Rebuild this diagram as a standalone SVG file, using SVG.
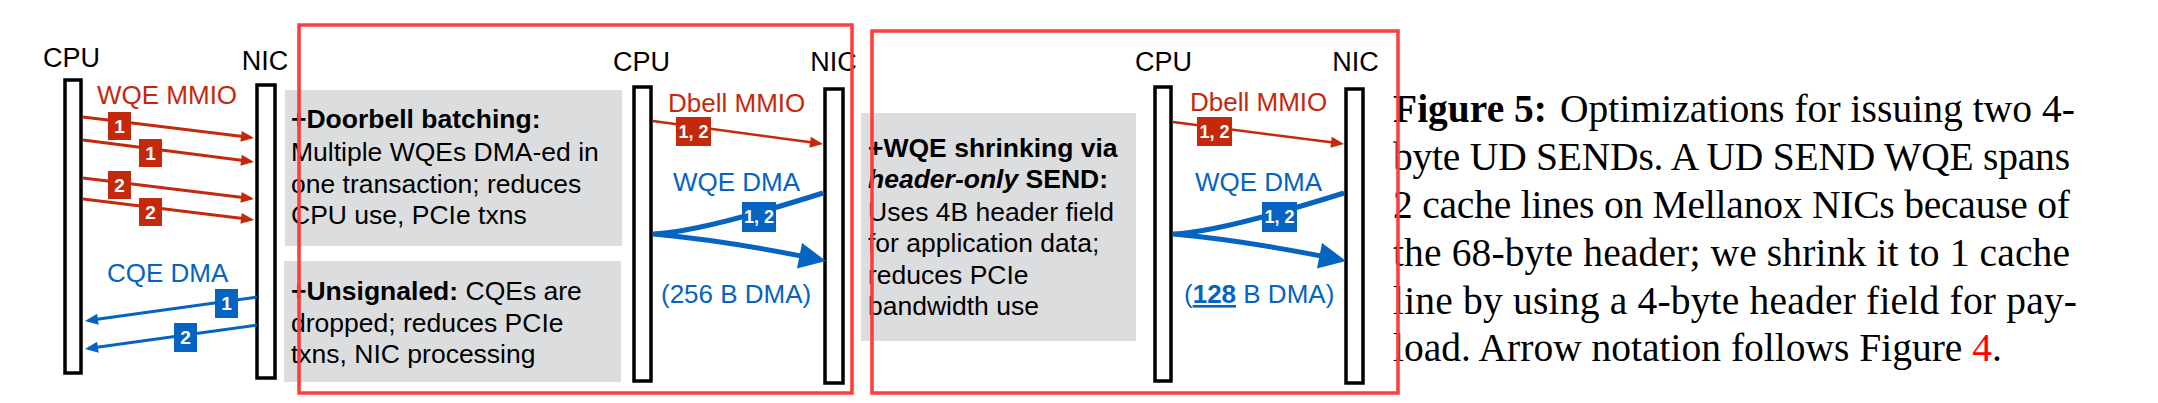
<svg xmlns="http://www.w3.org/2000/svg" width="2158" height="403" viewBox="0 0 2158 403">
<defs>
<style>
.bar{fill:#fff;stroke:#000;stroke-width:3.5}
.hd{font-family:"Liberation Sans",Arial,sans-serif;font-size:27px;fill:#000;text-anchor:middle}
.lr{font-family:"Liberation Sans",Arial,sans-serif;font-size:26px;fill:#c4290b}
.lb{font-family:"Liberation Sans",Arial,sans-serif;font-size:26px;fill:#0563c1}
.box{fill:#dcdddf}
.bt{font-family:"Liberation Sans",Arial,sans-serif;font-size:26.5px;fill:#000}
.b{font-weight:bold}
.ar{fill:none;stroke:#c4290b;stroke-width:3}
.ab{fill:none;stroke:#0563c1;stroke-width:3}
.abig{fill:none;stroke:#0563c1;stroke-width:5}
.tr{fill:#c4290b}
.tb{fill:#0563c1}
.tag{font-family:"Liberation Sans",Arial,sans-serif;font-weight:bold;font-size:19px;fill:#fff;text-anchor:middle}
.tag2{font-family:"Liberation Sans",Arial,sans-serif;font-weight:bold;font-size:18px;fill:#fff;text-anchor:middle}
.frame{fill:none;stroke:#ff3b3b;stroke-width:3.5}
.cap{font-family:"Liberation Serif","Times New Roman",serif;font-size:39.5px;fill:#000}
</style>
<marker id="mr" markerUnits="userSpaceOnUse" markerWidth="13" markerHeight="11" refX="10" refY="5.5" orient="auto" overflow="visible"><path d="M0,0 L13,5.5 L0,11 z" fill="#c4290b"/></marker>
<marker id="mb" markerUnits="userSpaceOnUse" markerWidth="13" markerHeight="11" refX="10" refY="5.5" orient="auto" overflow="visible"><path d="M0,0 L13,5.5 L0,11 z" fill="#0563c1"/></marker>
<marker id="mB" markerUnits="userSpaceOnUse" markerWidth="27" markerHeight="26" refX="1" refY="13" orient="auto" overflow="visible"><path d="M0,0 L27,13 L0,26 z" fill="#0563c1"/></marker>
</defs>
<rect width="2158" height="403" fill="#fff"/>

<g id="box-doorbell">
<rect class="box" x="285" y="90" width="337" height="156"/>
<text class="bt" x="291" y="128.3"><tspan class="b">+Doorbell batching:</tspan></text>
<text class="bt" x="291" y="160.7">Multiple WQEs DMA-ed in</text>
<text class="bt" x="291" y="192.7">one transaction; reduces</text>
<text class="bt" x="291" y="224">CPU use, PCIe txns</text>
</g>
<g id="box-unsignaled">
<rect class="box" x="284" y="261" width="337" height="121"/>
<text class="bt" x="291" y="300"><tspan class="b">+Unsignaled:</tspan> CQEs are</text>
<text class="bt" x="291" y="331.7">dropped; reduces PCIe</text>
<text class="bt" x="291" y="362.7">txns, NIC processing</text>
</g>
<g id="box-wqe-shrinking">
<rect class="box" x="861" y="113" width="275" height="228"/>
<text class="bt" x="868" y="156.7"><tspan class="b">+WQE shrinking via</tspan></text>
<text class="bt" x="868" y="188.3"><tspan class="b" font-style="italic">header-only</tspan><tspan class="b"> SEND:</tspan></text>
<text class="bt" x="868" y="220.7">Uses 4B header field</text>
<text class="bt" x="868" y="252.3">for application data;</text>
<text class="bt" x="868" y="284">reduces PCIe</text>
<text class="bt" x="868" y="315">bandwidth use</text>
</g>

<g id="cpu1"><text class="hd" x="71.5" y="66.5">CPU</text><rect class="bar" x="65" y="80" width="16" height="293"/></g>
<g id="nic1"><text class="hd" x="265" y="70">NIC</text><rect class="bar" x="257" y="85" width="18" height="293"/></g>
<g id="cpu2"><text class="hd" x="641.5" y="71">CPU</text><rect class="bar" x="634" y="87" width="17" height="294"/></g>
<g id="nic2"><text class="hd" x="833.5" y="71">NIC</text><rect class="bar" x="825" y="89" width="18" height="294"/></g>
<g id="cpu3"><text class="hd" x="1163.5" y="71">CPU</text><rect class="bar" x="1155" y="87" width="16" height="294"/></g>
<g id="nic3"><text class="hd" x="1355.5" y="71">NIC</text><rect class="bar" x="1346" y="89" width="17" height="294"/></g>

<g id="connectors">
<text class="lr" x="97" y="104">WQE MMIO</text>
<path class="ar" d="M83,117 L251,137.6" marker-end="url(#mr)"/>
<path class="ar" d="M83,140 L251,161.6" marker-end="url(#mr)"/>
<path class="ar" d="M83,178 L251,198.6" marker-end="url(#mr)"/>
<path class="ar" d="M83,199 L251,219.6" marker-end="url(#mr)"/>
<rect class="tr" x="108" y="112" width="23" height="28"/><text class="tag" x="119.5" y="132.8">1</text>
<rect class="tr" x="139" y="139" width="23" height="28"/><text class="tag" x="150.5" y="159.8">1</text>
<rect class="tr" x="108" y="171" width="23" height="28"/><text class="tag" x="119.5" y="191.8">2</text>
<rect class="tr" x="139" y="198" width="23" height="28"/><text class="tag" x="150.5" y="218.8">2</text>

<text class="lb" x="107" y="282">CQE DMA</text>
<path class="ab" d="M257,297 L88,320.6" marker-end="url(#mb)"/>
<path class="ab" d="M257,325 L88,348.6" marker-end="url(#mb)"/>
<rect class="tb" x="215" y="289" width="23" height="29"/><text class="tag" x="226.5" y="310.3">1</text>
<rect class="tb" x="174" y="323" width="23" height="29"/><text class="tag" x="185.5" y="344.3">2</text>

<text class="lr" x="668" y="112">Dbell MMIO</text>
<path class="ar" d="M653,121 L820,143.6" marker-end="url(#mr)" style="stroke-width:2.5"/>
<rect class="tr" x="676" y="117" width="35" height="29"/><text class="tag2" x="693.5" y="137.9">1, 2</text>
<text class="lb" x="673" y="191">WQE DMA</text>
<path class="abig" d="M823,193 Q700,232 653,234 Q720,240 800.5,255.9" marker-end="url(#mB)"/>
<rect class="tb" x="742" y="202" width="34" height="30"/><text class="tag2" x="759" y="223.4">1, 2</text>
<text class="lb" x="661" y="303">(256 B DMA)</text>

<text class="lr" x="1190" y="111">Dbell MMIO</text>
<path class="ar" d="M1173,122 L1341,143.6" marker-end="url(#mr)" style="stroke-width:2.5"/>
<rect class="tr" x="1197" y="117" width="35" height="29"/><text class="tag2" x="1214.5" y="137.9">1, 2</text>
<text class="lb" x="1195" y="191">WQE DMA</text>
<path class="abig" d="M1344,193 Q1220,232 1173,234 Q1240,240 1320.5,255.9" marker-end="url(#mB)"/>
<rect class="tb" x="1262" y="202" width="35" height="30"/><text class="tag2" x="1279.5" y="223.4">1, 2</text>
<text class="lb" x="1184" y="303">(<tspan font-weight="bold" text-decoration="underline">128</tspan> B DMA)</text>
</g>

<g id="caption">
<text class="cap" x="1393" y="122.3" font-weight="bold">Figure 5:</text>
<text class="cap" x="1560" y="122.3" textLength="515" lengthAdjust="spacing">Optimizations for issuing two 4-</text>
<text class="cap" x="1393" y="170.1" textLength="677" lengthAdjust="spacing">byte UD SENDs. A UD SEND WQE spans</text>
<text class="cap" x="1393" y="217.9" textLength="677" lengthAdjust="spacing">2 cache lines on Mellanox NICs because of</text>
<text class="cap" x="1393" y="265.7" textLength="677" lengthAdjust="spacing">the 68-byte header; we shrink it to 1 cache</text>
<text class="cap" x="1393" y="313.5" textLength="684" lengthAdjust="spacing">line by using a 4-byte header field for pay-</text>
<text class="cap" x="1393" y="361.3">load. Arrow notation follows Figure <tspan fill="#ff0000">4</tspan>.</text>
</g>

<g id="frames">
<rect class="frame" x="299" y="25" width="553" height="368"/>
<rect class="frame" x="872" y="31" width="526" height="362"/>
</g>
</svg>
